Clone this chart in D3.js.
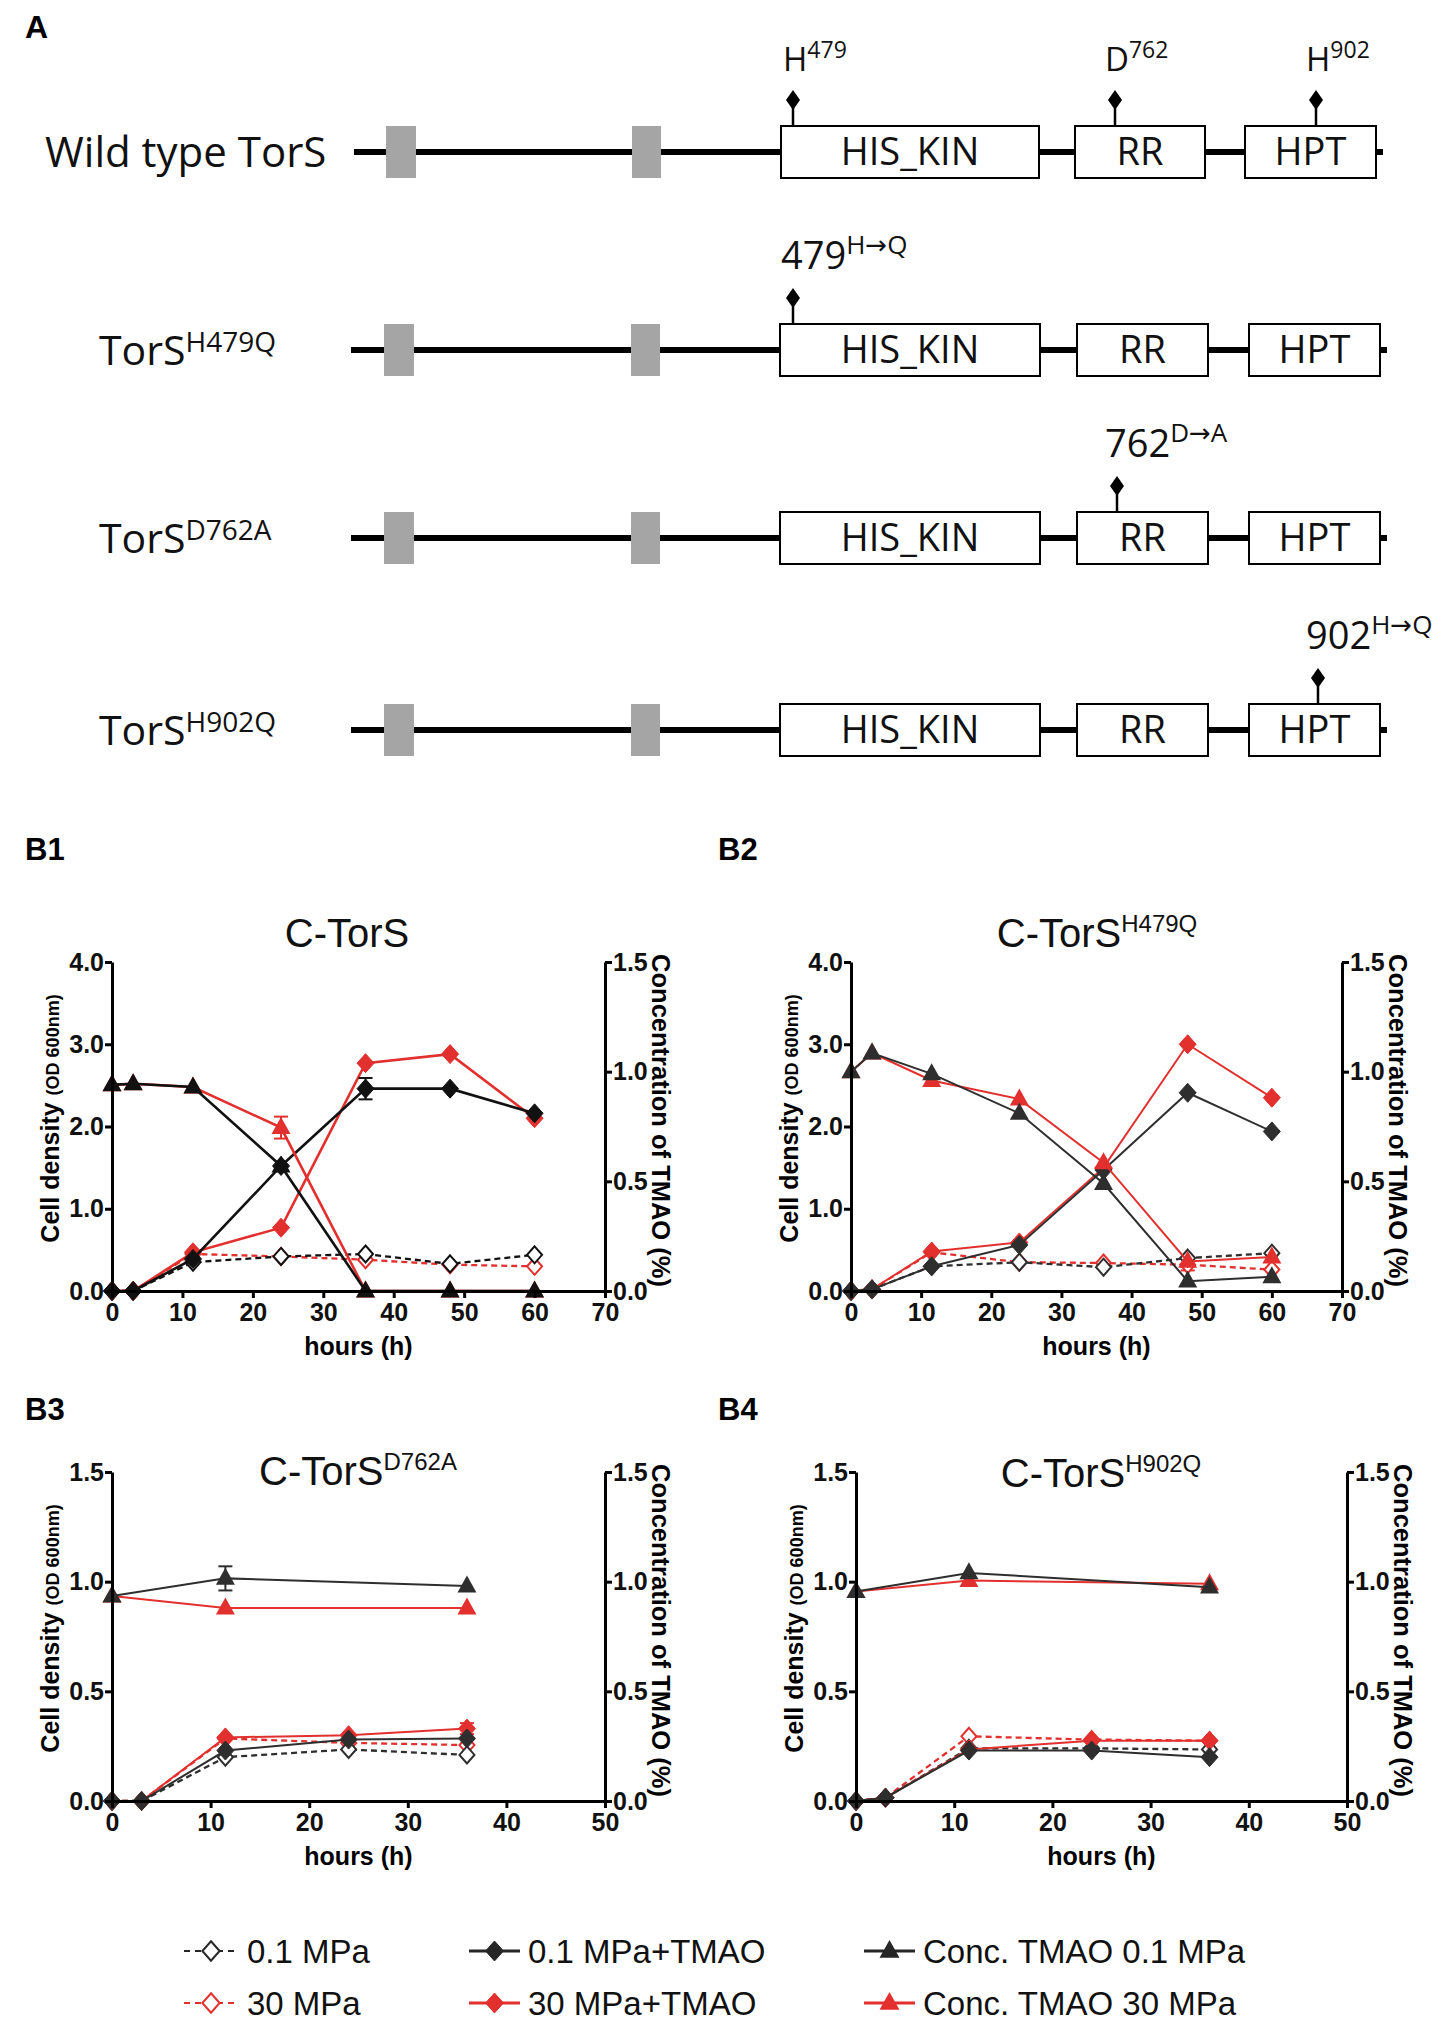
<!DOCTYPE html>
<html><head><meta charset="utf-8">
<script src="https://cdn.jsdelivr.net/npm/d3@7"></script>
<style>body{margin:0;background:#fff}</style>
</head><body>
<script>
// ---------- DATA ----------
const domainNames = ["HIS_KIN", "RR", "HPT"];
const rowNames = ["Wild type TorS", "TorS", "TorS", "TorS"];
const rowSups = ["", "H479Q", "D762A", "H902Q"];
// site labels per row: [domain index, main text, superscript]
const siteLabels = [
  [[0, "H", "479"], [1, "D", "762"], [2, "H", "902"]],
  [[0, "479", "H\u2192Q"]],
  [[1, "762", "D\u2192A"]],
  [[2, "902", "H\u2192Q"]]
];

const timesLong = [0, 3, 11.5, 24, 36, 48, 60];
const timesShort = [0, 3, 11.5, 24, 36];
const timesConcShort = [0, 11.5, 36];

// B1 C-TorS
const b1_od01 = [0, 0, 0.35, 0.42, 0.45, 0.33, 0.44];
const b1_od30 = [0, 0, 0.45, 0.42, 0.38, 0.32, 0.30];
const b1_od01T = [0, 0, 0.39, 1.52, 2.46, 2.46, 2.16];
const b1_od30T = [0, 0, 0.47, 0.77, 2.77, 2.88, 2.10];
const b1_conc01 = [0.94, 0.945, 0.93, 0.57, 0, 0, 0];
const b1_conc30 = [0.94, 0.945, 0.93, 0.745, 0, 0, 0];
const b1_err_od01T = [0, 0, 0, 0, 0.13, 0, 0];
const b1_err_conc30 = [0, 0, 0, 0.05, 0, 0, 0];

// B2 C-TorS H479Q
const b2_od01 = [0, 0.02, 0.30, 0.35, 0.29, 0.40, 0.46];
const b2_od30 = [0, 0.02, 0.47, 0.35, 0.34, 0.32, 0.26];
const b2_od01T = [0, 0.02, 0.30, 0.56, 1.47, 2.41, 1.94];
const b2_od30T = [0, 0.02, 0.48, 0.59, 1.50, 3.00, 2.35];
const b2_conc01 = [1.0, 1.085, 0.99, 0.81, 0.49, 0.045, 0.065];
const b2_conc30 = [1.0, 1.085, 0.96, 0.875, 0.585, 0.135, 0.155];
const b2_err_od30 = [0, 0, 0, 0, 0, 0.07, 0];

// B3 C-TorS D762A
const b3_od01 = [0, 0, 0.20, 0.235, 0.21];
const b3_od30 = [0, 0, 0.285, 0.265, 0.255];
const b3_od01T = [0, 0, 0.23, 0.28, 0.285];
const b3_od30T = [0, 0, 0.29, 0.30, 0.33];
const b3_conc01 = [0.935, 1.015, 0.98];
const b3_conc30 = [0.935, 0.88, 0.88];
const b3_err_conc01 = [0, 0.055, 0];
const b3_err_od30T = [0, 0, 0, 0, 0.025];

// B4 C-TorS H902Q
const b4_od01 = [0, 0.015, 0.24, 0.24, 0.235];
const b4_od30 = [0, 0.015, 0.295, 0.28, 0.275];
const b4_od01T = [0, 0.015, 0.23, 0.23, 0.20];
const b4_od30T = [0, 0.015, 0.235, 0.275, 0.275];
const b4_conc01 = [0.955, 1.04, 0.975];
const b4_conc30 = [0.955, 1.005, 0.99];

const xTicks70 = [0, 10, 20, 30, 40, 50, 60, 70];
const xTicks50 = [0, 10, 20, 30, 40, 50];
const yTicks4 = [0, 1, 2, 3, 4];
const yTicks15 = [0, 0.5, 1, 1.5];

const legendLabels = [["0.1 MPa", "0.1 MPa+TMAO", "Conc. TMAO 0.1 MPa"],
                      ["30 MPa", "30 MPa+TMAO", "Conc. TMAO 30 MPa"]];

// ---------- STYLE ----------
const RED = "#e2302e";
const DARK = "#262626";
const chartFont = "'Liberation Sans', Arial, Helvetica, sans-serif";
const domFont = "'Open Sans', 'Noto Sans', 'DejaVu Sans', sans-serif";

const svg = d3.select("body").append("svg")
  .attr("width", 1441).attr("height", 2021)
  .style("font-family", chartFont);
svg.append("rect").attr("width", 1441).attr("height", 2021).attr("fill", "#fff");

// ---------- PART A ----------
svg.append("text").attr("x", 25).attr("y", 38).attr("font-size", 32)
  .attr("font-weight", "bold").text("A");

const rowY = [152, 350, 538, 730];
const geomRow0 = {line: [354, 1383], gray: [[386, 416], [632, 661]],
  boxes: [[781, 1039], [1075, 1205], [1245, 1376]], pins: [793, 1115, 1316], labelX: 45};
const geomRowN = {line: [351, 1387], gray: [[384, 414], [631, 660]],
  boxes: [[780, 1040], [1077, 1208], [1249, 1380]], pins: [793, 1117, 1318], labelX: 99};
const boxHalf = 26;

rowNames.forEach((name, i) => {
  const y = rowY[i];
  const gm = i === 0 ? geomRow0 : geomRowN;
  const g = svg.append("g").style("font-family", domFont);
  g.append("line").attr("x1", gm.line[0]).attr("x2", gm.line[1]).attr("y1", y).attr("y2", y)
    .attr("stroke", "#000").attr("stroke-width", 6);
  gm.gray.forEach(r => g.append("rect").attr("x", r[0]).attr("y", y - boxHalf)
    .attr("width", r[1] - r[0]).attr("height", boxHalf * 2).attr("fill", "#a5a5a5"));
  domainNames.forEach((dn, j) => {
    const b = gm.boxes[j];
    g.append("rect").attr("x", b[0]).attr("y", y - boxHalf).attr("width", b[1] - b[0])
      .attr("height", boxHalf * 2).attr("fill", "#fff").attr("stroke", "#000").attr("stroke-width", 2);
    g.append("text").attr("x", (b[0] + b[1]) / 2).attr("y", y + 13).attr("text-anchor", "middle")
      .attr("font-size", 38).attr("fill", "#111").text(dn);
  });
  const t = g.append("text").attr("x", gm.labelX).attr("y", y + 15).attr("font-size", i === 0 ? 42 : 41).attr("fill", "#111");
  t.append("tspan").text(name);
  if (rowSups[i]) t.append("tspan").attr("font-size", 28).attr("dy", -13).text(rowSups[i]);
  siteLabels[i].forEach(s => {
    const px = gm.pins[s[0]];
    const top = y - boxHalf;
    g.append("line").attr("x1", px).attr("x2", px).attr("y1", top).attr("y2", top - 26)
      .attr("stroke", "#000").attr("stroke-width", 2.5);
    g.append("path").attr("d", `M${px},${top - 36}L${px + 7},${top - 26}L${px},${top - 16}L${px - 7},${top - 26}Z`)
      .attr("fill", "#000");
    const big = i > 0;
    const lt = g.append("text").attr("x", px - (big ? 12 : 10)).attr("y", top - 55)
      .attr("font-size", big ? 38 : 33).attr("fill", "#111");
    lt.append("tspan").text(s[1]);
    lt.append("tspan").attr("font-size", big ? 26 : 23).attr("dy", big ? -15 : -13).text(s[2]);
  });
});

// ---------- PART B ----------
function diamondPath(w, h) { return `M0,${-h}L${w},0L0,${h}L${-w},0Z`; }
function trianglePath(w, h) { return `M0,${-h * 0.62}L${w},${h * 0.38}L${-w},${h * 0.38}Z`; }

function drawMarker(g, kind, color, cx, cy, scale) {
  scale = scale || 1;
  if (kind === "open") {
    g.append("path").attr("d", diamondPath(7.5 * scale, 8.5 * scale)).attr("transform", `translate(${cx},${cy})`)
      .attr("fill", "#fff").attr("stroke", color).attr("stroke-width", 2);
  } else if (kind === "filled") {
    g.append("path").attr("d", diamondPath(8.5 * scale, 9.5 * scale)).attr("transform", `translate(${cx},${cy})`)
      .attr("fill", color).attr("stroke", color).attr("stroke-width", 1);
  } else {
    g.append("path").attr("d", trianglePath(9.5 * scale, 17 * scale)).attr("transform", `translate(${cx},${cy})`)
      .attr("fill", color);
  }
}

function panel(cfg) {
  const g = svg.append("g");
  const x = d3.scaleLinear().domain([0, cfg.xMax]).range([cfg.left, cfg.right]);
  const yL = d3.scaleLinear().domain([0, cfg.yLMax]).range([cfg.bottom, cfg.top]);
  const yR = d3.scaleLinear().domain([0, 1.5]).range([cfg.bottom, cfg.top]);

  // panel letter
  g.append("text").attr("x", cfg.letterX).attr("y", cfg.letterY).attr("font-size", 31)
    .attr("font-weight", "bold").text(cfg.letter);
  // title
  const tt = g.append("text").attr("x", cfg.titleX).attr("y", cfg.titleY).attr("text-anchor", "middle")
    .attr("font-size", 40).attr("fill", "#111");
  tt.append("tspan").text("C-TorS");
  if (cfg.titleSup) tt.append("tspan").attr("font-size", 24).attr("dy", -15).text(cfg.titleSup);

  // series
  cfg.series.forEach(s => {
    const ys = s.axis === "R" ? yR : yL;
    const line = d3.line().x((d, i) => x(s.t[i])).y(d => ys(d));
    g.append("path").datum(s.v).attr("d", line).attr("fill", "none")
      .attr("stroke", s.color).attr("stroke-width", s.dash ? 2.3 : cfg.lw)
      .attr("stroke-dasharray", s.dash ? "6,4" : null);
    if (s.err) s.v.forEach((v, i) => {
      const e = s.err[i];
      if (!e) return;
      const cx = x(s.t[i]);
      g.append("line").attr("x1", cx).attr("x2", cx).attr("y1", ys(v - e)).attr("y2", ys(v + e))
        .attr("stroke", s.color).attr("stroke-width", 2);
      [v - e, v + e].forEach(q => g.append("line").attr("x1", cx - 7).attr("x2", cx + 7)
        .attr("y1", ys(q)).attr("y2", ys(q)).attr("stroke", s.color).attr("stroke-width", 2));
    });
    s.v.forEach((v, i) => drawMarker(g, s.kind, s.color, x(s.t[i]), ys(v)));
  });

  // axes
  const axStyle = sel => {
    sel.select(".domain").attr("stroke", "#000").attr("stroke-width", 3);
    sel.selectAll(".tick line").attr("stroke", "#000").attr("stroke-width", 3);
    sel.selectAll("text").attr("font-size", 25).attr("font-weight", "bold")
      .attr("fill", "#111").style("font-family", chartFont);
  };
  g.append("g").attr("transform", `translate(0,${cfg.bottom})`)
    .call(d3.axisBottom(x).tickValues(cfg.xTicks).tickSize(7).tickSizeOuter(0).tickPadding(5).tickFormat(d3.format("d")))
    .call(axStyle);
  g.append("g").attr("transform", `translate(${cfg.left},0)`)
    .call(d3.axisLeft(yL).tickValues(cfg.yLTicks).tickSize(7).tickSizeOuter(0).tickPadding(1).tickFormat(d3.format(".1f")))
    .call(axStyle);
  g.append("g").attr("transform", `translate(${cfg.right},0)`)
    .call(d3.axisRight(yR).tickValues(yTicks15).tickSize(7).tickSizeOuter(0).tickPadding(1).tickFormat(d3.format(".1f")))
    .call(axStyle);

  const midY = (cfg.top + cfg.bottom) / 2;
  g.append("text").attr("x", (cfg.left + cfg.right) / 2).attr("y", cfg.bottom + 64)
    .attr("text-anchor", "middle").attr("font-size", 25).attr("font-weight", "bold").text("hours (h)");
  const yl = g.append("text").attr("transform", `translate(${cfg.left - 53},${midY - 8}) rotate(-90)`)
    .attr("text-anchor", "middle").attr("font-size", 25).attr("font-weight", "bold");
  yl.append("tspan").text("Cell density ");
  yl.append("tspan").attr("font-size", 18).text("(OD 600nm)");
  g.append("text").attr("transform", `translate(${cfg.right + 47},${midY - 6}) rotate(90)`)
    .attr("text-anchor", "middle").attr("font-size", 25.5).attr("font-weight", "bold")
    .text("Concentration of TMAO (%)");
}

function seriesSet(t, tc, od01, od30, od01T, od30T, c01, c30, errs, dark) {
  errs = errs || {};
  return [
    {v: od30, t: t, color: RED, dash: true, kind: "open", axis: "L", err: errs.od30},
    {v: od01, t: t, color: dark, dash: true, kind: "open", axis: "L", err: errs.od01},
    {v: od30T, t: t, color: RED, dash: false, kind: "filled", axis: "L", err: errs.od30T},
    {v: od01T, t: t, color: dark, dash: false, kind: "filled", axis: "L", err: errs.od01T},
    {v: c30, t: tc, color: RED, dash: false, kind: "tri", axis: "R", err: errs.c30},
    {v: c01, t: tc, color: dark, dash: false, kind: "tri", axis: "R", err: errs.c01}
  ];
}

panel({letter: "B1", letterX: 25, letterY: 860, titleX: 347, titleY: 947, titleSup: "",
  left: 112, right: 605, top: 962, bottom: 1291, xMax: 70, yLMax: 4, xTicks: xTicks70, yLTicks: yTicks4, lw: 2.6,
  series: seriesSet(timesLong, timesLong, b1_od01, b1_od30, b1_od01T, b1_od30T, b1_conc01, b1_conc30,
    {od01T: b1_err_od01T, c30: b1_err_conc30}, "#111")});
panel({letter: "B2", letterX: 718, letterY: 860, titleX: 1097, titleY: 947, titleSup: "H479Q",
  left: 851, right: 1342, top: 962, bottom: 1291, xMax: 70, yLMax: 4, xTicks: xTicks70, yLTicks: yTicks4, lw: 2,
  series: seriesSet(timesLong, timesLong, b2_od01, b2_od30, b2_od01T, b2_od30T, b2_conc01, b2_conc30,
    {od30: b2_err_od30}, "#2e2e2e")});
panel({letter: "B3", letterX: 25, letterY: 1420, titleX: 358, titleY: 1485, titleSup: "D762A",
  left: 112, right: 605, top: 1472, bottom: 1801, xMax: 50, yLMax: 1.5, xTicks: xTicks50, yLTicks: yTicks15, lw: 2,
  series: seriesSet(timesShort, timesConcShort, b3_od01, b3_od30, b3_od01T, b3_od30T, b3_conc01, b3_conc30,
    {c01: b3_err_conc01, od30T: b3_err_od30T}, "#2e2e2e")});
panel({letter: "B4", letterX: 718, letterY: 1420, titleX: 1101, titleY: 1487, titleSup: "H902Q",
  left: 856, right: 1347, top: 1472, bottom: 1801, xMax: 50, yLMax: 1.5, xTicks: xTicks50, yLTicks: yTicks15, lw: 2,
  series: seriesSet(timesShort, timesConcShort, b4_od01, b4_od30, b4_od01T, b4_od30T, b4_conc01, b4_conc30,
    {}, "#2e2e2e")});

// ---------- LEGEND ----------
const legColX = [184, 469, 864];
const legRowY = [1951, 2003];
const legKinds = ["open", "filled", "tri"];
const legColors = [DARK, RED];
legendLabels.forEach((row, r) => {
  row.forEach((lab, c) => {
    const y = legRowY[r], x0 = legColX[c];
    const col = legColors[r];
    const g = svg.append("g");
    const w = c === 0 ? 54 : 51;
    g.append("line").attr("x1", x0).attr("x2", x0 + w).attr("y1", y).attr("y2", y)
      .attr("stroke", col).attr("stroke-width", c === 0 ? 2.2 : 3)
      .attr("stroke-dasharray", c === 0 ? "6,5" : null);
    drawMarker(g, legKinds[c], col, x0 + w / 2, y, c === 0 ? 1.15 : 1.05);
    g.append("text").attr("x", x0 + w + (c === 0 ? 9 : 8)).attr("y", y + 12).attr("font-size", 33)
      .attr("fill", "#111").text(lab);
  });
});
</script>
</body></html>
